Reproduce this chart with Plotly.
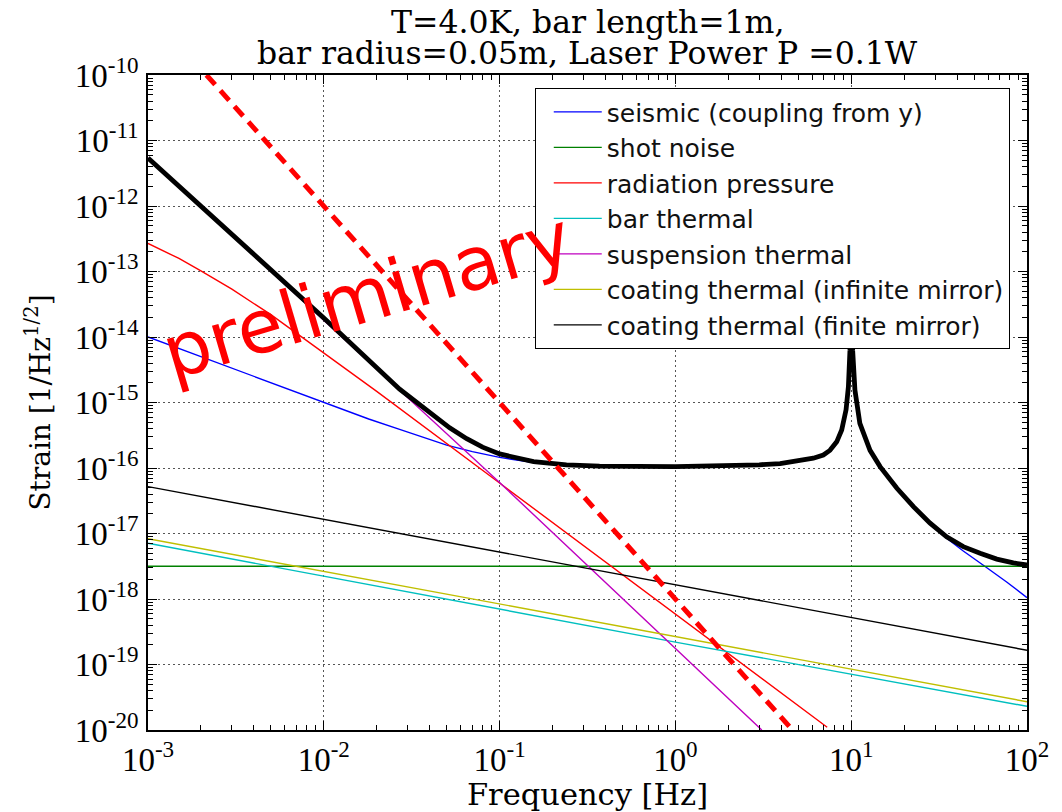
import plotly.graph_objects as go

# ---------------- data ----------------
freq_ends = [1e-3, 1e2]

shot_noise = [3.16e-18, 3.16e-18]

bar_thermal_f = [1e-3, 1.0, 1e2]
bar_thermal = [7.1e-18, 2.2e-19, 2.3e-20]

coating_inf = [8.3e-18, 2.7e-20]
coating_fin = [5.2e-17, 1.65e-19]

susp_f = [1e-3, 0.1, 3.1]
susp_thermal = [5.4e-12, 6.0e-17, 1.0e-20]

rad_f = [1e-3, 1.5e-3, 2e-3, 3e-3, 5e-3, 1e-2, 2e-2, 1e-1, 1.0, 7.3]
rad_pressure = [2.69e-13, 1.58e-13, 1.02e-13, 5.37e-14, 2.19e-14, 5.75e-15, 1.48e-15,
                5.89e-17, 5.89e-19, 1.10e-20]

seis_f = [1e-3, 1e-2, 0.018, 0.027, 0.04, 0.05, 0.07, 0.1, 0.15, 0.2, 0.4, 1.0, 2.0,
          3.0, 3.94, 4.9, 6.09, 6.94, 7.57, 8.27, 8.83, 9.35, 9.64, 9.84, 10.0, 10.19,
          10.5, 11.2, 12.8, 14.6, 18.2, 22.6, 28.0, 34.9, 43.4, 57.5, 76.6, 100.0]
seismic = [1e-14, 1e-15, 5.6e-16, 3.89e-16, 2.69e-16, 2.24e-16, 1.78e-16, 1.45e-16,
           1.23e-16, 1.17e-16, 1.07e-16, 1.05e-16, 1.08e-16,
           1.12e-16, 1.17e-16, 1.26e-16, 1.41e-16, 1.58e-16, 1.86e-16, 2.51e-16, 3.80e-16,
           7.76e-16, 1.74e-15, 6.3e-15, 1e-13, 6.3e-15,
           1.55e-15, 4.79e-16, 1.86e-16, 1.05e-16, 4.9e-17, 2.57e-17, 1.38e-17, 8.5e-18,
           5.4e-18, 3.16e-18, 1.82e-18, 1.05e-18]

total_f = [1e-3, 1e-2, 0.027, 0.035, 0.042, 0.052, 0.065, 0.08, 0.1, 0.156, 0.24, 0.37,
           1.0, 2.0, 3.0, 3.94, 4.9, 6.09, 6.94, 7.57, 8.27, 8.83, 9.35, 9.64, 9.84, 10.0,
           10.19, 10.5, 11.2, 12.8, 14.6, 18.2, 22.6, 28.0, 34.9, 43.4, 54.1, 67.3, 83.6,
           100.0]
total = [5.4e-12, 1.95e-14, 1.6e-15, 9.3e-16, 6.2e-16, 4.1e-16, 2.8e-16, 2.08e-16,
         1.64e-16, 1.25e-16, 1.12e-16, 1.07e-16,
         1.05e-16, 1.08e-16, 1.12e-16, 1.17e-16, 1.26e-16, 1.41e-16, 1.58e-16, 1.86e-16,
         2.51e-16, 3.80e-16, 7.76e-16, 1.74e-15, 6.3e-15, 1e-13,
         6.3e-15, 1.55e-15, 4.79e-16, 1.86e-16, 1.05e-16, 4.9e-17, 2.57e-17, 1.45e-17,
         8.9e-18, 6.3e-18, 5.0e-18, 4.07e-18, 3.55e-18, 3.3e-18]

dashed_f = [2.15e-3, 4.64]
dashed = [1e-10, 1e-20]

x_tickvals = [1e-3, 1e-2, 1e-1, 1e0, 1e1, 1e2]
x_ticktext = ["10<sup>-3</sup>", "10<sup>-2</sup>", "10<sup>-1</sup>", "10<sup>0</sup>",
              "10<sup>1</sup>", "10<sup>2</sup>"]
y_exps = list(range(-20, -9))
y_tickvals = [10.0 ** e for e in y_exps]
y_ticktext = ["10<sup>%d</sup>" % e for e in y_exps]

# ---------------- figure ----------------
SERIF = "DejaVu Serif"
TICKSERIF = "Liberation Serif"
SANS = "DejaVu Sans"
THIN = 1.4

fig = go.Figure()

def add_line(x, y, name, color):
    fig.add_trace(go.Scatter(x=x, y=y, mode="lines", name=name, legendgroup=name,
                             line=dict(color=color, width=THIN)))

add_line(seis_f, seismic, "seismic (coupling from y)", "#0000ff")
add_line(freq_ends, shot_noise, "shot noise", "#008000")
add_line(rad_f, rad_pressure, "radiation pressure", "#ff0000")
add_line(bar_thermal_f, bar_thermal, "bar thermal", "#00bfbf")
add_line(susp_f, susp_thermal, "suspension thermal", "#bf00bf")
add_line(freq_ends, coating_inf, "coating thermal (infinite mirror)", "#bfbf00")
add_line(freq_ends, coating_fin, "coating thermal (finite mirror)", "#000000")

fig.add_trace(go.Scatter(x=total_f, y=total, mode="lines", showlegend=False,
                         line=dict(color="black", width=4.8)))
fig.add_trace(go.Scatter(x=dashed_f, y=dashed, mode="lines", showlegend=False,
                         line=dict(color="#ff0000", width=5, dash="13px,8px")))

minor_x = [k * 10.0 ** e for e in range(-3, 2) for k in range(2, 10)]
minor_y = [k * 10.0 ** e for e in range(-20, -10) for k in range(2, 10)]

axis_common = dict(
    type="log", showline=True, linecolor="black", linewidth=1.5, mirror="ticks",
    ticks="inside", ticklen=9, tickwidth=1.2, tickcolor="black",
    showgrid=True, gridcolor="#555555", gridwidth=1, griddash="2px,3px",
    zeroline=False, tickmode="array", automargin=False,
    tickfont=dict(family=TICKSERIF, size=33, color="black"),
)

fig.update_xaxes(**axis_common, range=[-3, 2], tickvals=x_tickvals, ticktext=x_ticktext,
                 minor=dict(tickmode="array", tickvals=minor_x, ticks="inside", ticklen=5,
                            tickcolor="black", tickwidth=1, showgrid=False),
                 title=dict(text="Frequency [Hz]",
                            font=dict(family=SERIF, size=30.5, color="black"), standoff=4))
fig.update_yaxes(**axis_common, range=[-20, -10], tickvals=y_tickvals, ticktext=y_ticktext,
                 minor=dict(tickmode="array", tickvals=minor_y, ticks="inside", ticklen=5,
                            tickcolor="black", tickwidth=1, showgrid=False),
                 ticklabelstandoff=1,
                 title=dict(text="Strain [1/Hz<sup>1/2</sup>]",
                            font=dict(family=SERIF, size=28, color="black"), standoff=16))

# the page body keeps an 8px margin, so the figure is 8px smaller than the window
W, H = 1054, 804
ML, MR, MT, MB = 140, 35, 67, 82
fig.update_layout(
    width=W, height=H,
    margin=dict(l=ML, r=MR, t=MT, b=MB),
    paper_bgcolor="white", plot_bgcolor="white",
    legend=dict(x=0.44, y=0.98, xanchor="left", yanchor="top", bgcolor="white",
                bordercolor="black", borderwidth=1, tracegroupgap=0, itemwidth=48,
                indentation=13,
                font=dict(family=SANS, size=25, color="#111111")),
)

pw, ph = W - ML - MR, H - MT - MB
fig.add_annotation(text="T=4.0K, bar length=1m,", xref="paper", yref="paper",
                   x=0.5, y=1 + (75 - 22) / ph, xanchor="center", yanchor="middle",
                   showarrow=False, font=dict(family=SERIF, size=31.5, color="black"))
fig.add_annotation(text="bar radius=0.05m, Laser Power P =0.1W", xref="paper", yref="paper",
                   x=0.5, y=1 + (75 - 53) / ph, xanchor="center", yanchor="middle",
                   showarrow=False, font=dict(family=SERIF, size=31.5, color="black"))
fig.add_annotation(text="preliminary", xref="paper", yref="paper",
                   x=(367 - 148) / pw, y=(730 - 295) / ph, xanchor="center", yanchor="middle",
                   textangle=-16.5, showarrow=False,
                   font=dict(family=SANS, size=74, color="#ff0000"))

fig.write_html("out.html")
